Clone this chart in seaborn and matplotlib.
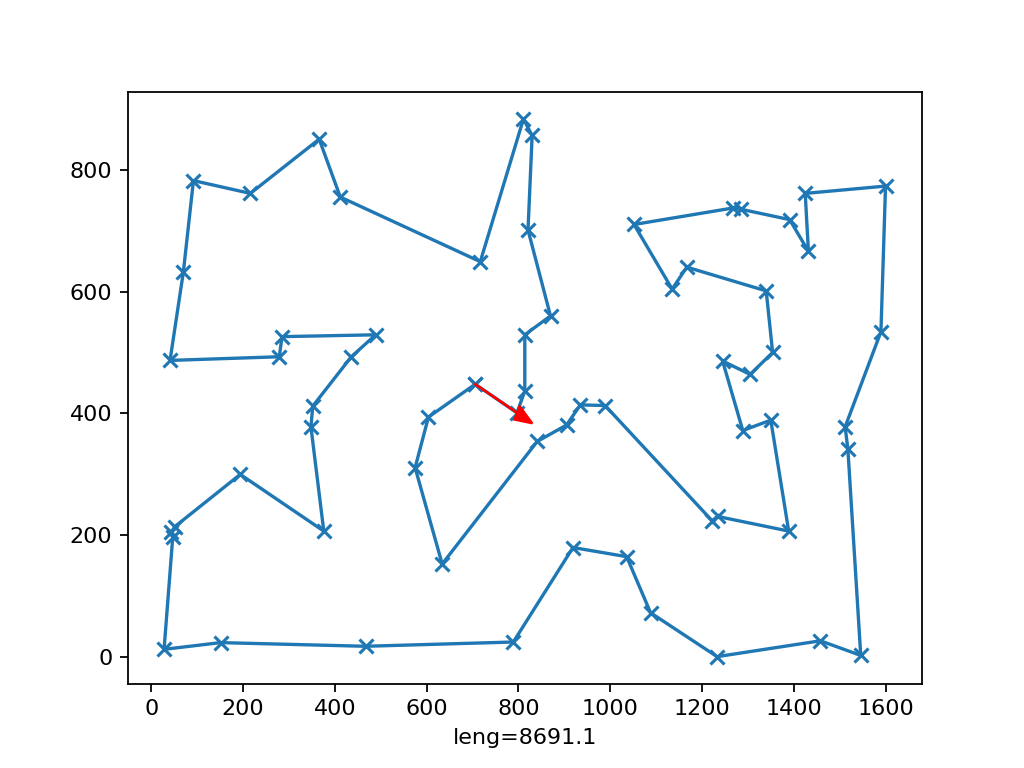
import matplotlib

matplotlib.use("Agg")
import matplotlib.pyplot as plt
import numpy as np
import pandas as pd
import seaborn as sns

# tour order (start point first)
tour_x = [
    706, 797, 814, 814, 870, 821, 830, 811, 717, 412,
    366, 216, 92, 70, 41, 279, 285, 489, 436, 352,
    348, 376, 194, 51, 44, 47, 28, 151, 467, 789,
    919, 1036, 1088, 1233, 1458, 1546, 1518, 1512, 1590, 1600,
    1425, 1432, 1391, 1285, 1267, 1052, 1135, 1167, 1340, 1354,
    1305, 1245, 1289, 1350, 1389, 1234, 1222, 989, 935, 905,
    841, 634, 575, 604,
]
tour_y = [
    448, 401, 437, 529, 560, 701, 856, 883, 649, 755,
    850, 761, 782, 632, 487, 493, 526, 529, 493, 412,
    378, 207, 300, 214, 205, 198, 13, 24, 18, 25,
    180, 165, 73, 1, 27, 3, 341, 378, 534, 773,
    761, 666, 718, 735, 737, 710, 604, 640, 601, 500,
    464, 486, 372, 389, 207, 231, 224, 413, 414, 381,
    354, 153, 311, 394,
]
tour_length = 8691.1


def plot_tour() -> None:
    xs = np.append(tour_x, tour_x[0])
    ys = np.append(tour_y, tour_y[0])
    frame = pd.DataFrame({"x": xs, "y": ys})

    fig, ax = plt.subplots(figsize=(6.4, 4.8), dpi=160)
    sns.lineplot(
        data=frame,
        x="x",
        y="y",
        sort=False,
        estimator=None,
        marker="x",
        markersize=6.5,
        markeredgewidth=1.4,
        markeredgecolor="#1f77b4",
        color="#1f77b4",
        linewidth=1.5,
        ax=ax,
    )
    ax.arrow(
        tour_x[0],
        tour_y[0],
        tour_x[1] - tour_x[0],
        tour_y[1] - tour_y[0],
        head_width=25,
        color="red",
        zorder=3,
    )
    ax.set_xlabel(f"leng={tour_length}")
    ax.set_ylabel("")
    fig.savefig("out.png", dpi=160)
    plt.close(fig)


if __name__ == "__main__":
    plot_tour()
